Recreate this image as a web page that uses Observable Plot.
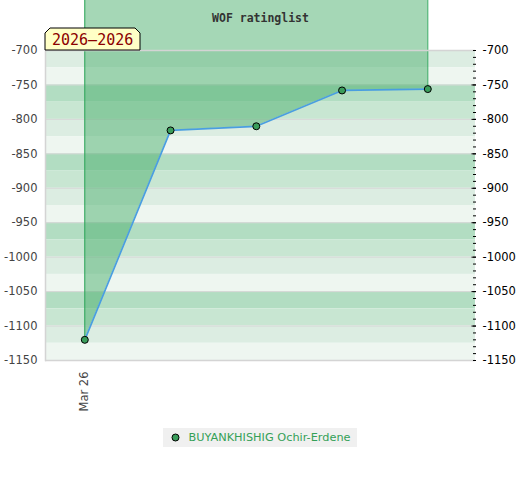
<!DOCTYPE html>
<html><head><meta charset="utf-8">
<script src="https://cdn.jsdelivr.net/npm/d3@7"></script>
<script src="https://cdn.jsdelivr.net/npm/@observablehq/plot@0.6"></script>
<style>
body{margin:0;background:#fff;font-family:"DejaVu Sans",sans-serif;}
#chart{position:relative;width:520px;}
#chart svg{display:block;overflow:hidden;}
.legend{text-align:center;margin-top:7px;width:520px;}
.legend .item{display:inline-flex;align-items:center;background:#f0f0f0;height:19px;padding:0 6px 0 8px;font-size:11.3px;color:#34a057;}
.legend .item svg{margin-right:8px;}
</style></head><body><div id="chart"></div>
<script>
// ---- data ----
const periods = ["Mar 26", "Apr 26", "May 26", "Jun 26", "Jul 26"];
const ratings = [-1120, -816, -810, -758, -756];
const xTicks = ["Mar 26"];
const yTicks = [-700, -750, -800, -850, -900, -950, -1000, -1050, -1100, -1150];
const playerName = "BUYANKHISHIG Ochir-Erdene";
const chartTitle = "WOF ratinglist";
const yearSpan = "2026\u20132026";

// ---- derived ----
const data = periods.map((p, i) => ({period: p, rating: ratings[i]}));
const bandColors = ["#dcede2", "#eef6f0", "#b2ddc2", "#c8e6d2"];
const bands = d3.range(-700, -1150, -25).map((top, k) => ({top, bottom: top - 25, color: bandColors[k % 4]}));
const minorTicks = d3.range(-1150, -699, 10);
const ends = [data[0], data[data.length - 1]];
const topValue = -620;
const fmt = d => String(d);

const plot = Plot.plot({
  width: 520,
  height: 420,
  marginTop: 50,
  marginBottom: 60,
  marginLeft: 45,
  marginRight: 45,
  style: {fontFamily: "DejaVu Sans, sans-serif", fontSize: "11.5px", background: "transparent"},
  x: {type: "point", domain: periods, padding: 0, round: false, insetLeft: 39.3, insetRight: 47.7, label: null},
  y: {domain: [-1150, -700], label: null},
  color: {type: "identity"},
  marks: [
    Plot.rect(bands, {y1: "top", y2: "bottom", fill: "color"}),
    Plot.ruleY(yTicks, {stroke: "#d8d8d8", strokeWidth: 1}),
    Plot.areaY(data, {x: "period", y1: "rating", y2: topValue, fill: "#4caf6e", fillOpacity: 0.5}),
    Plot.ruleX(ends, {x: "period", y1: "rating", y2: topValue, stroke: "#2ea55a", strokeWidth: 1}),
    Plot.ruleY([-700, -1150], {stroke: "#d4d4d4", strokeWidth: 1.5}),
    Plot.frame({anchor: "left", stroke: "#d4d4d4", strokeWidth: 1.5}),
    Plot.line(data, {x: "period", y: "rating", stroke: "#4a9ee0", strokeWidth: 1.7}),
    Plot.dot(data, {x: "period", y: "rating", r: 3.5, fill: "#3a9d5b", stroke: "#000", strokeWidth: 1}),
    Plot.axisY({anchor: "left", ticks: yTicks, tickSize: 0, tickPadding: 8, tickFormat: fmt, fill: "#444", fontSize: 11.5}),
    Plot.axisY({anchor: "right", ticks: yTicks, tickSize: 0, tickPadding: 7, tickFormat: fmt, fill: "#000", fontSize: 11.5}),
    Plot.axisY({anchor: "right", ticks: minorTicks, tickSize: 3, dx: -3, stroke: "#000", fill: "none", tickFormat: () => ""}),
    Plot.axisY({anchor: "right", ticks: yTicks.slice(1, -1), tickSize: 4.5, dx: -4.5, stroke: "#000", fill: "none", tickFormat: () => ""}),
    Plot.axisX({ticks: xTicks, tickSize: 0, tickRotate: -90, tickPadding: 11, fill: "#444", fontSize: 11.5}),
    Plot.text([chartTitle], {text: d => d, frameAnchor: "top", dy: -37, fontFamily: "DejaVu Sans Mono, monospace", fontWeight: "bold", fontSize: 11.5, fill: "#333"})
  ]
});

document.getElementById("chart").appendChild(plot);

// year-span label box at the top-left corner of the plot frame
const svg = d3.select(plot);
const L = 45, B = 50, W = 95, H = 22, c = 5;
const g = svg.append("g");
g.append("path")
  .attr("d", `M${L},${B} V${B - H + c} L${L + c},${B - H} H${L + W - c} L${L + W},${B - H + c} V${B} Z`)
  .attr("fill", "#ffffc6").attr("stroke", "#000").attr("stroke-width", 1);
g.append("text")
  .attr("x", L + 7).attr("y", B - H / 2 + 1)
  .attr("text-anchor", "start")
  .attr("dominant-baseline", "middle")
  .attr("font-family", "DejaVu Sans Mono, monospace").attr("font-size", 15)
  .attr("fill", "#8b0000").text(yearSpan);

// legend
const legend = d3.select("#chart").append("div").attr("class", "legend");
const item = legend.append("span").attr("class", "item");
const ms = item.append("svg").attr("width", 9).attr("height", 9);
ms.append("circle").attr("cx", 4.5).attr("cy", 4.5).attr("r", 3.5).attr("fill", "#3a9d5b").attr("stroke", "#000");
item.append("span").text(playerName);
</script></body></html>
